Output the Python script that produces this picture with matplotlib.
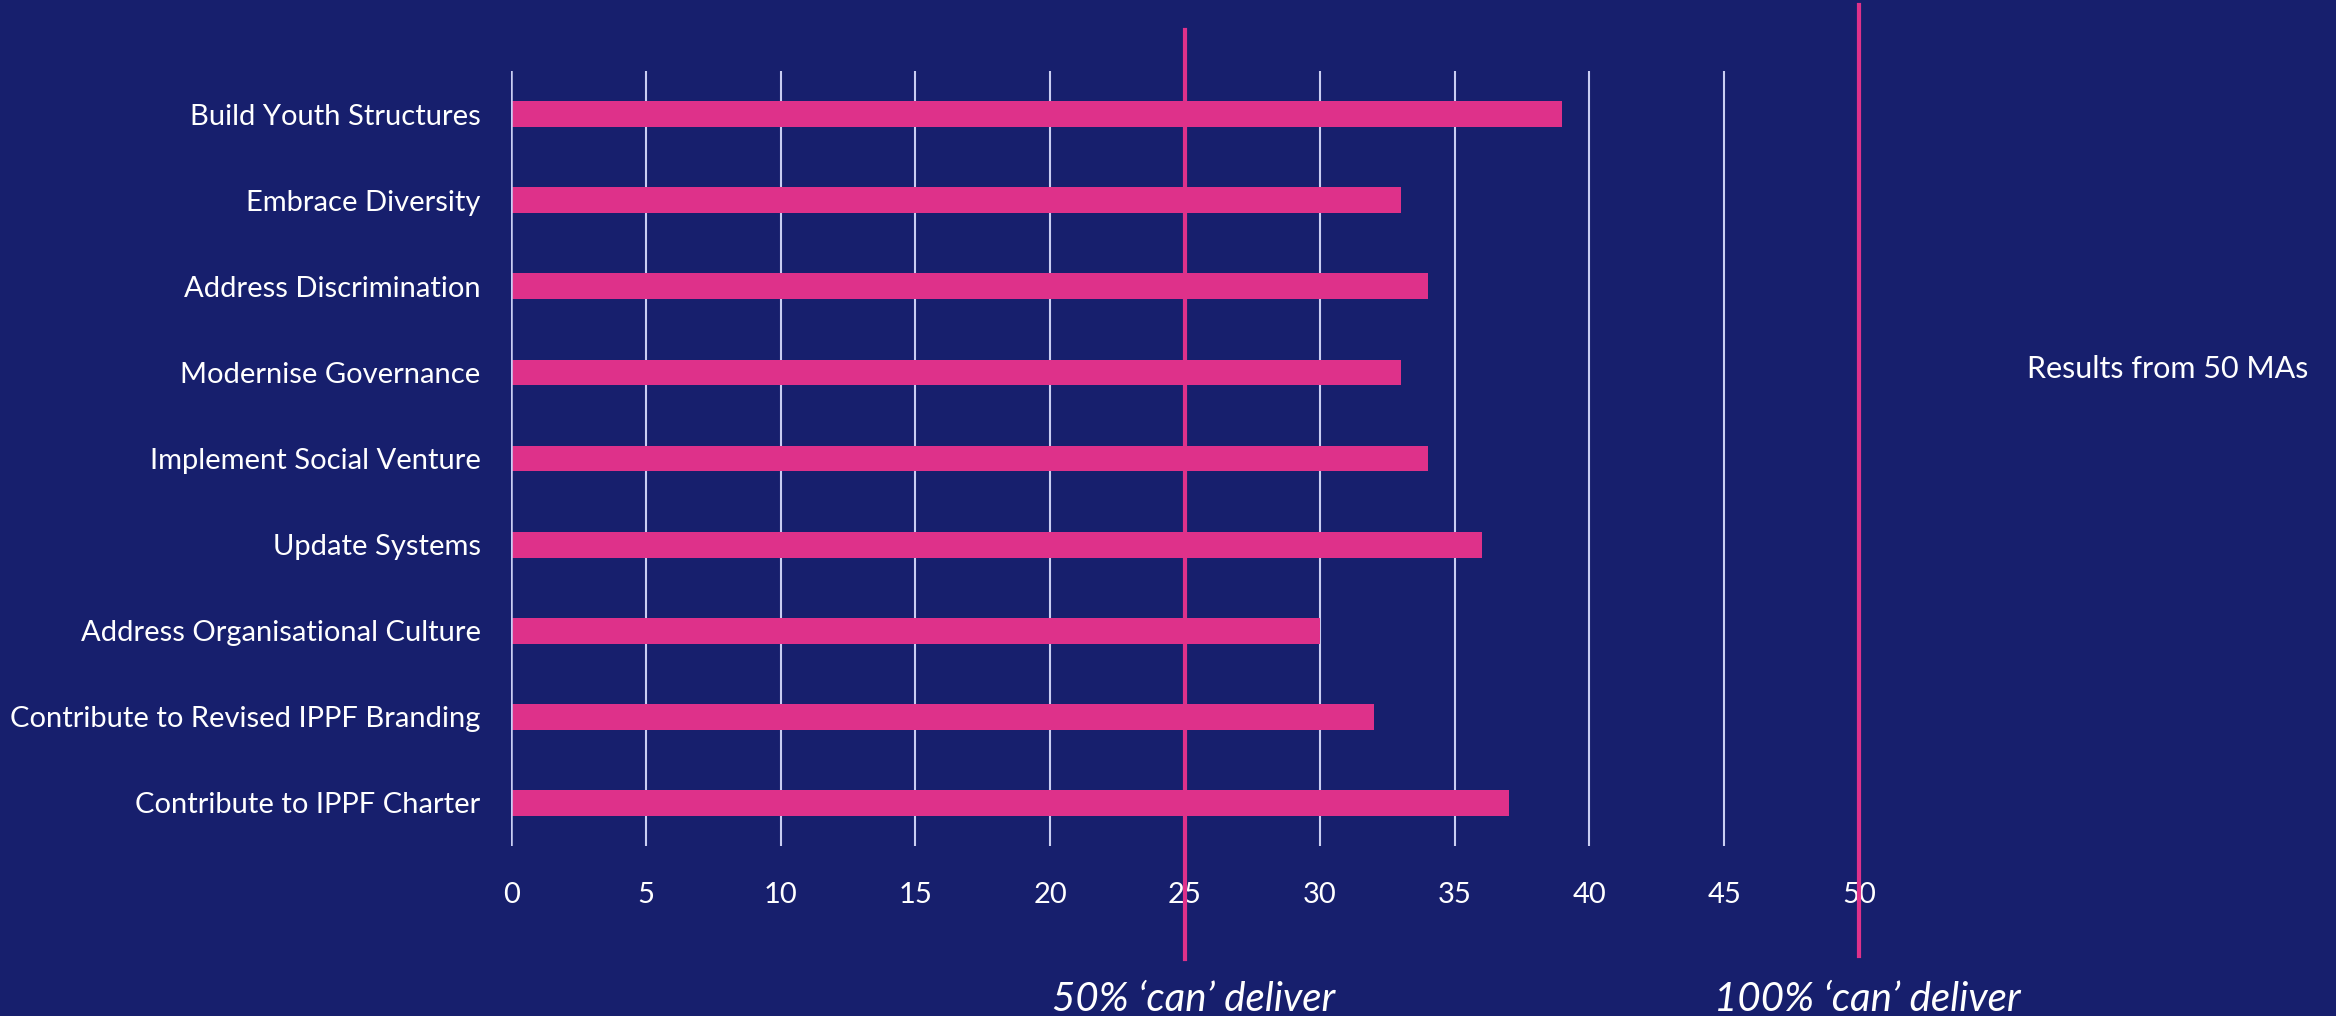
import matplotlib.pyplot as plt
from matplotlib.transforms import blended_transform_factory

# data
categories = ["Build Youth Structures", "Embrace Diversity", "Address Discrimination",
              "Modernise Governance", "Implement Social Venture", "Update Systems",
              "Address Organisational Culture", "Contribute to Revised IPPF Branding",
              "Contribute to IPPF Charter"]
values = [39, 33, 34, 33, 34, 36, 30, 32, 37]
xticks = list(range(0, 55, 5))
ref_values = [25, 50]
ref_labels = ["50% \u2018can\u2019 deliver", "100% \u2018can\u2019 deliver"]
note = "Results from 50 MAs"

bg = "#171F6D"
pink = "#DE318A"
grid = "#C9CDF2"

plt.rcParams['font.family'] = ['Lato', 'DejaVu Sans']

fig = plt.figure(figsize=(23.36, 10.16), dpi=100, facecolor=bg)
ax = fig.add_axes([0.2188, 0.1673, 0.577, 0.7627])
ax.set_facecolor(bg)

y = list(range(len(categories)))
ax.barh(y, values, height=0.3, color=pink, zorder=3)
ax.set_ylim(len(categories) - 0.5, -0.5)
ax.set_xlim(0, 50)

ax.set_yticks(y)
ax.set_yticklabels(categories, fontsize=21, color="white")
ax.set_xticks(xticks)
ax.set_xticklabels([str(t) for t in xticks], fontsize=21, color="white")
ax.tick_params(axis='y', length=0, pad=22)
ax.tick_params(axis='x', length=0, pad=26)

for s in ax.spines.values():
    s.set_visible(False)
ax.grid(axis='x', color=grid, linewidth=1.5, zorder=1)
ax.axvline(0, color=grid, linewidth=1.8, zorder=4)

# reference lines spanning beyond the axes
trans = blended_transform_factory(ax.transData, fig.transFigure)
ax.plot([ref_values[0]] * 2, [1 - 30 / 1016, 1 - 959 / 1016], color=pink, lw=3,
        transform=trans, clip_on=False, zorder=5)
ax.plot([ref_values[1]] * 2, [1 - 5 / 1016, 1 - 956 / 1016], color=pink, lw=3,
        transform=trans, clip_on=False, zorder=5)

for xv, lab in zip(ref_values, ref_labels):
    ax.text(xv + 0.3, 1 - 1011 / 1016, lab, transform=trans, ha='center', va='baseline',
            fontsize=29, style='italic', color="white")

fig.text(0.988, 1 - 369 / 1016, note, ha='right', va='center', fontsize=22, color="white")

fig.savefig("out.png", dpi=100, facecolor=bg)
